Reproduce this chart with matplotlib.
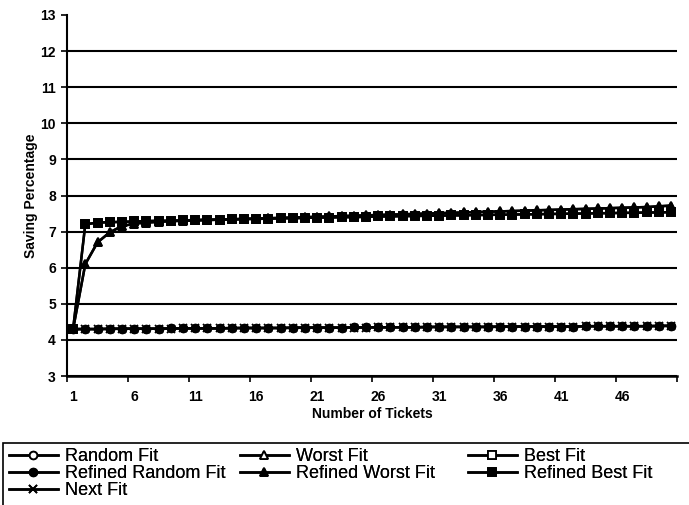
import matplotlib.pyplot as plt
from matplotlib.patches import Rectangle

plt.rcParams['font.family'] = ['Liberation Sans', 'DejaVu Sans']

# Number of tickets 1..50
tickets = list(range(1, 51))
tick_labels = [1, 6, 11, 16, 21, 26, 31, 36, 41, 46]

# Saving percentage
random_fit = [4.30, 4.30, 4.30, 4.31, 4.31, 4.31, 4.31, 4.31, 4.32, 4.32,
              4.32, 4.32, 4.32, 4.33, 4.33, 4.33, 4.33, 4.33, 4.34, 4.34,
              4.34, 4.34, 4.34, 4.35, 4.35, 4.35, 4.35, 4.35, 4.35, 4.36,
              4.36, 4.36, 4.36, 4.36, 4.36, 4.37, 4.37, 4.37, 4.37, 4.37,
              4.37, 4.37, 4.38, 4.38, 4.38, 4.38, 4.38, 4.38, 4.39, 4.39]
refined_random_fit = random_fit
next_fit = [4.30, 4.30, 4.30, 4.30, 4.31, 4.31, 4.31, 4.31, 4.31, 4.32,
            4.32, 4.32, 4.32, 4.32, 4.33, 4.33, 4.33, 4.33, 4.33, 4.34,
            4.34, 4.34, 4.34, 4.34, 4.34, 4.35, 4.35, 4.35, 4.35, 4.35,
            4.36, 4.36, 4.36, 4.36, 4.36, 4.36, 4.37, 4.37, 4.37, 4.37,
            4.37, 4.37, 4.38, 4.38, 4.38, 4.38, 4.38, 4.38, 4.38, 4.39]
best_fit = [4.30, 7.20, 7.25, 7.26, 7.27, 7.28, 7.29, 7.30, 7.30, 7.31,
            7.32, 7.33, 7.33, 7.34, 7.35, 7.35, 7.36, 7.37, 7.37, 7.38,
            7.39, 7.39, 7.40, 7.40, 7.41, 7.42, 7.42, 7.43, 7.43, 7.44,
            7.44, 7.45, 7.45, 7.46, 7.46, 7.47, 7.47, 7.48, 7.48, 7.49,
            7.49, 7.50, 7.50, 7.51, 7.51, 7.52, 7.52, 7.53, 7.53, 7.54]
refined_best_fit = best_fit
worst_fit = [4.30, 6.10, 6.70, 6.98, 7.15, 7.22, 7.25, 7.27, 7.29, 7.30,
             7.31, 7.32, 7.33, 7.34, 7.35, 7.36, 7.37, 7.38, 7.39, 7.40,
             7.41, 7.42, 7.43, 7.44, 7.45, 7.46, 7.47, 7.48, 7.49, 7.50,
             7.51, 7.52, 7.53, 7.54, 7.55, 7.56, 7.57, 7.58, 7.59, 7.60,
             7.61, 7.62, 7.63, 7.64, 7.65, 7.66, 7.67, 7.68, 7.70, 7.72]
refined_worst_fit = worst_fit

fig = plt.figure(figsize=(6.89, 5.05), dpi=100)
ax = fig.add_axes([67/689, 1-376/505, 610/689, 361/505])

style = dict(color='black', lw=1.8, markersize=5.5, markeredgewidth=1.3)
h_rf, = ax.plot(tickets, random_fit, marker='o', mfc='white', label='Random Fit', **style)
h_wf, = ax.plot(tickets, worst_fit, marker='^', mfc='white', label='Worst Fit', **style)
h_bf, = ax.plot(tickets, best_fit, marker='s', mfc='white', label='Best Fit', **style)
h_rrf, = ax.plot(tickets, refined_random_fit, marker='o', label='Refined Random Fit', **style)
h_rwf, = ax.plot(tickets, refined_worst_fit, marker='^', label='Refined Worst Fit', **style)
h_rbf, = ax.plot(tickets, refined_best_fit, marker='s', label='Refined Best Fit', **style)
h_nf, = ax.plot(tickets, next_fit, marker='x', label='Next Fit', **style)

ax.set_xlim(0.5, 50.5)
ax.set_ylim(3, 13)
ax.set_yticks(range(3, 14))
ax.set_xticks(tick_labels)
ax.set_xticklabels([str(t) for t in tick_labels])
ax.set_xticks([t - 0.5 for t in tick_labels] + [50.5], minor=True)
ax.tick_params(axis='x', which='major', length=0, pad=10, labelsize=10)
ax.tick_params(axis='x', which='minor', length=4, width=1.2, direction='out')
ax.tick_params(axis='y', length=4, width=1.2, labelsize=10, pad=4)
for lab in ax.get_xticklabels() + ax.get_yticklabels():
    lab.set_fontweight('bold')

ax.yaxis.grid(True, color='black', lw=1.5)
ax.yaxis.get_gridlines()[-1].set_visible(False)
ax.set_axisbelow(True)
for s in ['top', 'right']:
    ax.spines[s].set_visible(False)
ax.spines['left'].set_linewidth(1.5)
ax.spines['bottom'].set_linewidth(1.8)

ax.set_xlabel('Number of Tickets', fontsize=10, fontweight='bold', labelpad=2)
ax.set_ylabel('Saving Percentage', fontsize=10, fontweight='bold', labelpad=2)

# legend: three columns, each its own legend so the columns sit where the reference has them
columns = [([h_rf, h_rrf, h_nf], 9), ([h_wf, h_rwf], 240), ([h_bf, h_rbf], 468)]
for hs, x0 in columns:
    leg = fig.legend(handles=hs, labels=[h.get_label() for h in hs],
                     loc='upper left', bbox_to_anchor=(x0/689, 1-448/505),
                     frameon=False, fontsize=13, handlelength=2.7,
                     handletextpad=0.4, labelspacing=0.0, borderpad=0,
                     borderaxespad=0)
    fig.add_artist(leg)

fig.patches.append(Rectangle((3/689, -0.05), 1.0, 1-443/505 + 0.05,
                             transform=fig.transFigure, fill=False,
                             edgecolor='black', lw=1.2, clip_on=False))

fig.savefig('out.png', dpi=100)
